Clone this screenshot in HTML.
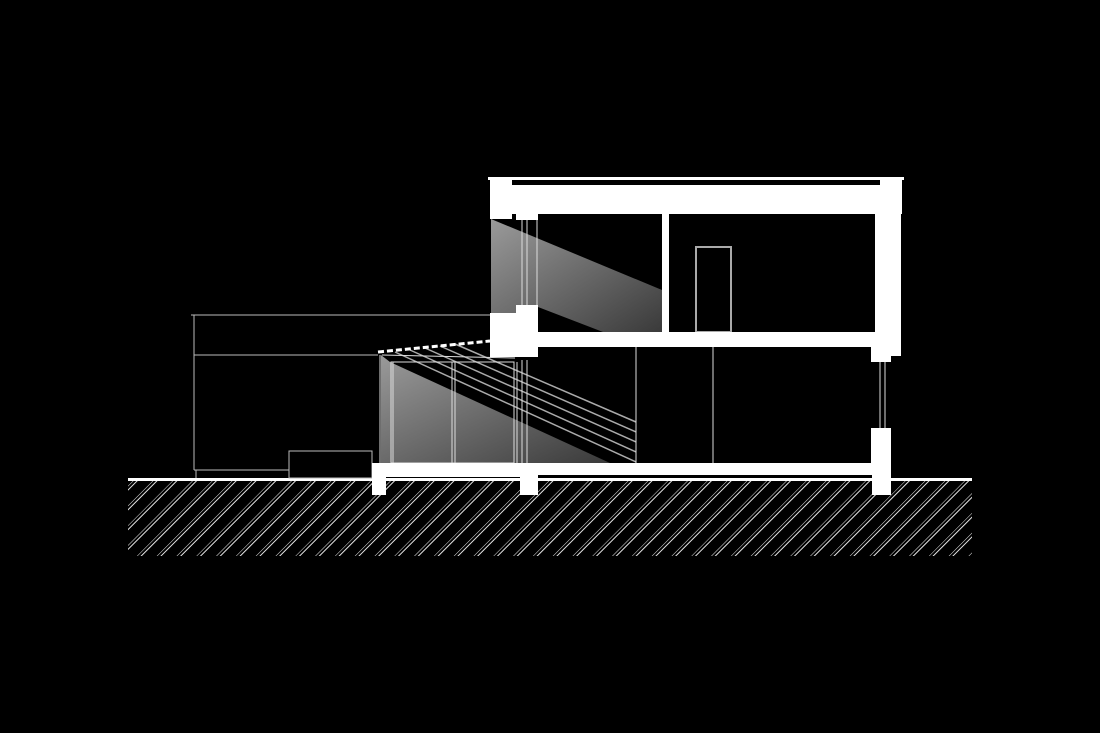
<!DOCTYPE html>
<html><head><style>html,body{margin:0;padding:0;background:#000;}svg{display:block}</style></head>
<body>
<svg width="1100" height="733" viewBox="0 0 1100 733" xmlns="http://www.w3.org/2000/svg">
<defs>
<linearGradient id="g1" x1="0" y1="0" x2="1" y2="1">
<stop offset="0" stop-color="#9a9a9a"/><stop offset="1" stop-color="#3a3a3a"/></linearGradient>
<pattern id="hatch" width="14" height="14" patternUnits="userSpaceOnUse" patternTransform="rotate(45)">
<line x1="0" y1="0" x2="0" y2="14" stroke="#fff" stroke-width="0.9"/>
<line x1="3" y1="0" x2="3" y2="14" stroke="#fff" stroke-width="0.9"/>
</pattern>
</defs>
<rect width="1100" height="733" fill="#000"/>
<rect x="128" y="481" width="844" height="75" fill="url(#hatch)"/>
<rect x="128" y="478" width="844" height="3" fill="#fff"/>

<g fill="none" stroke="#bbb" stroke-width="1">
<line x1="191" y1="315" x2="490" y2="315"/>
<line x1="194" y1="315" x2="194" y2="470"/>
<line x1="194" y1="355" x2="378" y2="355"/>
<line x1="194" y1="470" x2="289" y2="470"/>
<line x1="196" y1="470" x2="196" y2="478"/>
<rect x="289" y="451" width="83" height="27"/>
</g>

<polygon points="381,355 390,362 610,463 381,463" fill="url(#g1)"/>
<polygon points="491,219 662,290 662,332 603,332 538,307 516,307 516,313 491,313" fill="url(#g1)"/>
<g stroke="#aaa" stroke-width="1.5">
<line x1="395" y1="352" x2="636" y2="462"/>
<line x1="410" y1="350" x2="636" y2="452"/>
<line x1="425" y1="348" x2="636" y2="442"/>
<line x1="440" y1="346" x2="636" y2="432"/>
<line x1="455" y1="344" x2="636" y2="422"/>
</g>
<g fill="none" stroke="#ddd" stroke-width="1">
<line x1="378" y1="352" x2="490" y2="341" stroke="#fff" stroke-width="3" stroke-dasharray="6,3"/>
<line x1="380" y1="355" x2="380" y2="465"/>
<line x1="382" y1="355" x2="515" y2="358"/>
<rect x="391" y="362" width="123" height="101"/>
<line x1="393" y1="362" x2="393" y2="463"/>
<line x1="452" y1="362" x2="452" y2="463"/>
<line x1="455" y1="362" x2="455" y2="463"/>
<line x1="514" y1="362" x2="514" y2="463"/>
<line x1="517" y1="362" x2="517" y2="463"/>
<line x1="522" y1="360" x2="522" y2="463"/>
<line x1="527" y1="360" x2="527" y2="463"/>
<line x1="522" y1="220" x2="522" y2="305"/>
<line x1="527" y1="220" x2="527" y2="305"/>
<line x1="537" y1="220" x2="537" y2="305"/>
<line x1="636" y1="347" x2="636" y2="463"/>
<line x1="713" y1="347" x2="713" y2="463"/>
<rect x="696" y="247" width="35" height="85" stroke="#aaa" stroke-width="2"/>
<line x1="880" y1="362" x2="880" y2="428"/>
<line x1="885" y1="362" x2="885" y2="428"/>
</g>

<g fill="#fff">
<rect x="488" y="177" width="416" height="3"/>
<rect x="490" y="178" width="22" height="41"/>
<rect x="880" y="178" width="22" height="36"/>
<rect x="490" y="185" width="412" height="29"/>
<rect x="516" y="214" width="22" height="6"/>
<rect x="516" y="305" width="22" height="52"/>
<rect x="490" y="313" width="30" height="44"/>
<rect x="662" y="214" width="7" height="118"/>
<rect x="875" y="214" width="26" height="142"/>
<rect x="871" y="347" width="20" height="15"/>
<rect x="871" y="428" width="20" height="42"/>
<rect x="490" y="332" width="411" height="15"/>
<rect x="372" y="463" width="519" height="12"/>
<rect x="372" y="465" width="166" height="12"/>
<rect x="372" y="477" width="14" height="18"/>
<rect x="520" y="475" width="18" height="20"/>
<rect x="872" y="475" width="19" height="20"/>
</g>
<rect x="513" y="180" width="366" height="5" fill="#000" rx="2"/>
</svg>
</body></html>
